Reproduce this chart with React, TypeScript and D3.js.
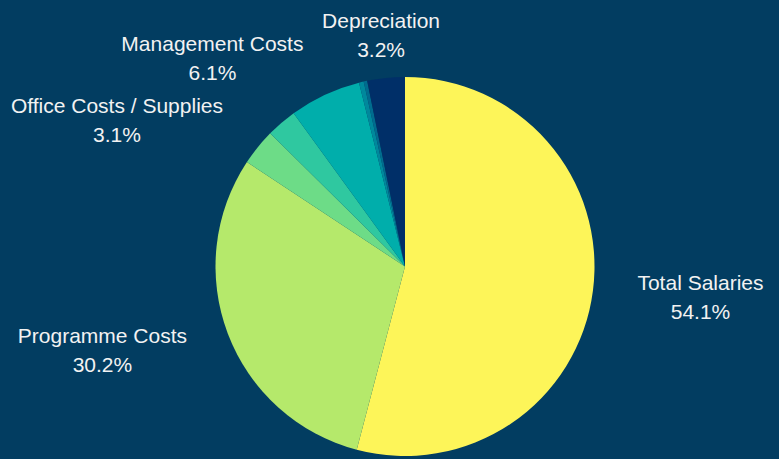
import React from "react";
import * as d3 from "d3";

const categories = [
  "Total Salaries",
  "Programme Costs",
  "Office Costs / Supplies",
  "Other Costs",
  "Management Costs",
  "Sundry",
  "Bank Charges",
  "Depreciation",
];
const values = [54.1, 30.2, 3.1, 2.6, 6.1, 0.4, 0.3, 3.2];
const colors = [
  "#fdf559",
  "#b5e96b",
  "#6ddc87",
  "#2fc8a0",
  "#00aeab",
  "#00889c",
  "#006c8e",
  "#002f68",
];
const showLabel = [true, true, true, false, true, false, false, true];
// label placement: angle (degrees, clockwise from top) and distance from centre
const labelAngle = [95.8, 254.5, 296.9, 0, 317.3, 0, 0, 354.1];
const labelDist = [297, 314, 323, 0, 284, 0, 0, 233];

const W = 779;
const H = 459;

export default function App() {
  const cx = 405;
  const cy = 266.5;
  const r = 189.5;
  const pie = d3
    .pie<number>()
    .sort(null)
    .value((d) => d);
  const arcs = pie(values);
  const arc = d3.arc<d3.PieArcDatum<number>>().innerRadius(0).outerRadius(r);
  const total = d3.sum(values);
  return (
    <div style={{ position: "absolute", left: 0, top: 0 }}>
      <svg width={W} height={H} style={{ display: "block" }}>
        <rect width={W} height={H} fill="#023d61" />
        <g transform={`translate(${cx},${cy})`}>
          {arcs.map((a, i) => (
            <path key={i} d={arc(a) || ""} fill={colors[i]} />
          ))}
          {arcs.map((a, i) => {
            if (!showLabel[i]) return null;
            const ang = (labelAngle[i] * Math.PI) / 180;
            const x = Math.sin(ang) * labelDist[i];
            const y = -Math.cos(ang) * labelDist[i];
            const pct = ((values[i] / total) * 100).toFixed(1) + "%";
            return (
              <text
                key={"l" + i}
                x={x}
                y={y}
                textAnchor="middle"
                fill="#f2f2f2"
                fontFamily="'Liberation Sans', Arial, sans-serif"
                fontSize={21}
              >
                <tspan x={x} dy={-7}>
                  {categories[i]}
                </tspan>
                <tspan x={x} dy={29}>
                  {pct}
                </tspan>
              </text>
            );
          })}
        </g>
      </svg>
    </div>
  );
}
